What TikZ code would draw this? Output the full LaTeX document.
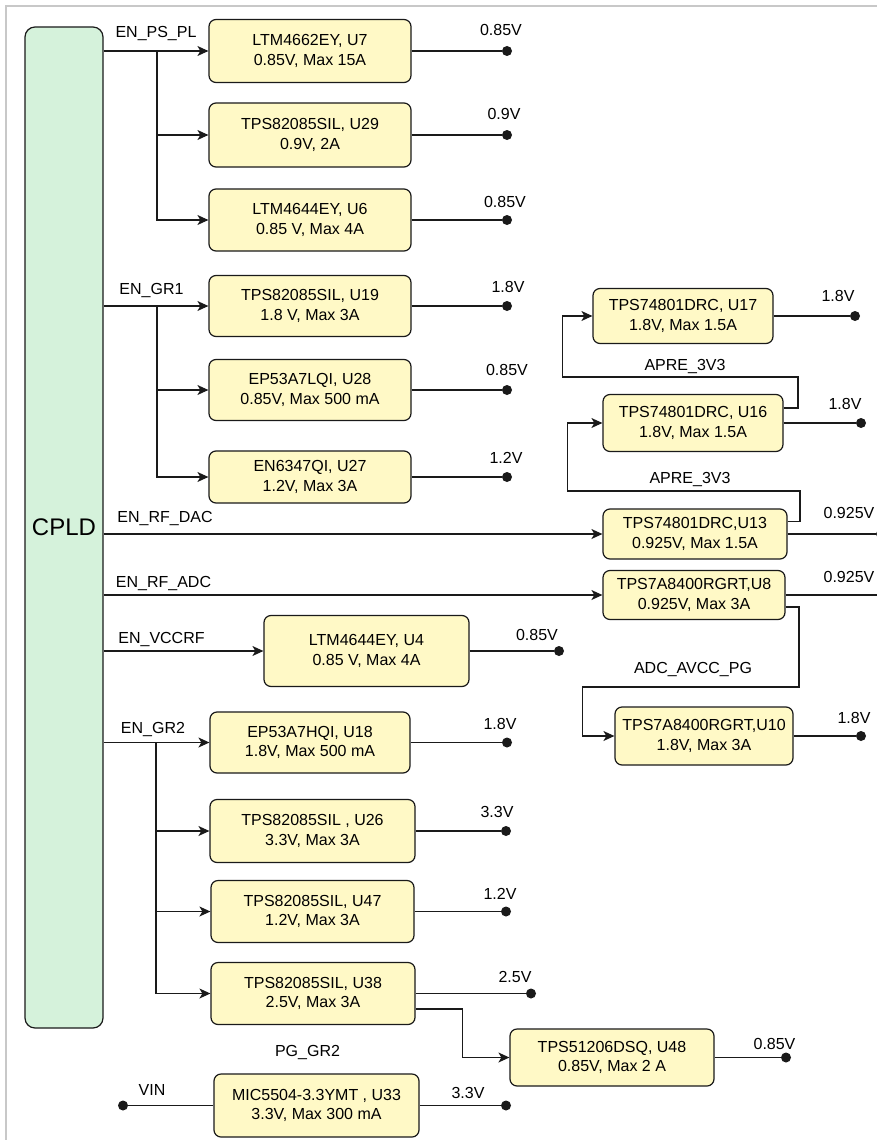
\documentclass[tikz,border=0pt]{standalone}
\usepackage{fontspec}
\setmainfont{Liberation Sans}
\usetikzlibrary{arrows.meta,positioning}
\definecolor{ink}{HTML}{1A1A1A}
\definecolor{frame}{HTML}{C8C8C8}
\definecolor{cpldfill}{HTML}{D5F2DB}
\definecolor{regfill}{HTML}{FFF9C6}
\tikzset{
  reg/.style={draw=ink,fill=regfill,rounded corners=7pt,line width=1.2pt,align=center,inner sep=1pt,font=\fontsize{16}{19.5}\selectfont},
  cpldbox/.style={draw=ink,fill=cpldfill,rounded corners=10pt,line width=1.2pt,font=\fontsize{24}{28}\selectfont},
  lab/.style={anchor=base,inner sep=0pt,font=\fontsize{16}{19}\selectfont},
  tap/.style={circle,fill=ink,inner sep=0pt,minimum size=10pt},
  wire/.style={draw=ink,line width=1.2pt},
  arr/.style={wire,-{Stealth[length=11pt,width=10pt,inset=3pt]}},
}
\begin{document}
\begin{tikzpicture}[x=1pt,y=-1pt]
  \useasboundingbox[fill=white] (0,0) rectangle (877,1140);
  \clip (0,0) rectangle (877,1140);
  \draw[frame,line width=1.5pt] (6,1140) -- (6,6) -- (877,6);

  \node[cpldbox,minimum width=78pt,minimum height=1001pt] (cpld) at (64,527.5) {CPLD};

  \node[reg,minimum width=202pt,minimum height=63pt] (u7) at (310,51) {LTM4662EY, U7\\0.85V, Max 15A};
  \node[reg,minimum width=202pt,minimum height=64pt] (u29) at (310,135) {TPS82085SIL, U29\\0.9V, 2A};
  \node[reg,minimum width=202pt,minimum height=62pt] (u6) at (310,220) {LTM4644EY, U6\\0.85 V, Max 4A};
  \node[reg,minimum width=202pt,minimum height=61pt] (u19) at (310,306) {TPS82085SIL, U19\\1.8 V, Max 3A};
  \node[reg,minimum width=202pt,minimum height=61pt] (u28) at (310,390) {EP53A7LQI, U28\\0.85V, Max 500 mA};
  \node[reg,minimum width=202pt,minimum height=52pt] (u27) at (310,477) {EN6347QI, U27\\1.2V, Max 3A};
  \node[reg,minimum width=180pt,minimum height=55pt] (u17) at (683,316) {TPS74801DRC, U17\\1.8V, Max 1.5A};
  \node[reg,minimum width=180pt,minimum height=57pt] (u16) at (693,423) {TPS74801DRC, U16\\1.8V, Max 1.5A};
  \node[reg,minimum width=184pt,minimum height=50pt] (u13) at (695,534) {TPS74801DRC,U13\\0.925V, Max 1.5A};
  \node[reg,minimum width=182pt,minimum height=49pt] (u8) at (694,595) {TPS7A8400RGRT,U8\\0.925V, Max 3A};
  \node[reg,minimum width=205pt,minimum height=71pt] (u4) at (366.5,651) {LTM4644EY, U4\\0.85 V, Max 4A};
  \node[reg,minimum width=178pt,minimum height=58pt] (u10) at (704,736) {TPS7A8400RGRT,U10\\1.8V, Max 3A};
  \node[reg,minimum width=200pt,minimum height=61pt] (u18) at (310,742.5) {EP53A7HQI, U18\\1.8V, Max 500 mA};
  \node[reg,minimum width=205pt,minimum height=63pt] (u26) at (312.5,831) {TPS82085SIL , U26\\3.3V, Max 3A};
  \node[reg,minimum width=203pt,minimum height=62pt] (u47) at (312.5,911.5) {TPS82085SIL, U47\\1.2V, Max 3A};
  \node[reg,minimum width=204pt,minimum height=62pt] (u38) at (313,993.5) {TPS82085SIL, U38\\2.5V, Max 3A};
  \node[reg,minimum width=204pt,minimum height=57pt] (u48) at (612,1057.5) {TPS51206DSQ, U48\\0.85V, Max 2 A};
  \node[reg,minimum width=205pt,minimum height=63pt] (u33) at (316.5,1105.5) {MIC5504-3.3YMT , U33\\3.3V, Max 300 mA};

  \node[tap] (o7) at (507,51) {};
  \node[tap] (o29) at (507,135) {};
  \node[tap] (o6) at (507,220) {};
  \node[tap] (o19) at (507,306) {};
  \node[tap] (o28) at (507,390) {};
  \node[tap] (o27) at (507,477) {};
  \node[tap] (o17) at (855,316) {};
  \node[tap] (o16) at (861,423) {};
  \node[tap] (o13) at (881,534) {};
  \node[tap] (o8) at (884,595) {};
  \node[tap] (o4) at (559,651) {};
  \node[tap] (o10) at (861,736) {};
  \node[tap] (o18) at (507,742.5) {};
  \node[tap] (o26) at (506,831) {};
  \node[tap] (o47) at (506,911.5) {};
  \node[tap] (o38) at (531,993.5) {};
  \node[tap] (o48) at (786,1057.5) {};
  \node[tap] (o33) at (506,1105.5) {};
  \node[tap] (vin) at (123,1105.5) {};

  \node[lab] (l7) at (501,36) {0.85V};
  \node[lab] (l29) at (504,119) {0.9V};
  \node[lab] (l6) at (505,207) {0.85V};
  \node[lab] (l19) at (508,292) {1.8V};
  \node[lab] (l28) at (507,375) {0.85V};
  \node[lab] (l27) at (506,463) {1.2V};
  \node[lab] (l17) at (838,301) {1.8V};
  \node[lab] (l16) at (845,409) {1.8V};
  \node[lab] (l13) at (849,518) {0.925V};
  \node[lab] (l8) at (849,582) {0.925V};
  \node[lab] (l4) at (537,640) {0.85V};
  \node[lab] (l10) at (854,723) {1.8V};
  \node[lab] (l18) at (500,729) {1.8V};
  \node[lab] (l26) at (497,817) {3.3V};
  \node[lab] (l47) at (500,899) {1.2V};
  \node[lab] (l38) at (515,982) {2.5V};
  \node[lab] (l48) at (774.5,1049) {0.85V};
  \node[lab] (l33) at (468,1098) {3.3V};
  \node[lab] (lvin) at (152,1095) {VIN};

  \node[lab] (enps) at (156,37.5) {EN\_PS\_PL};
  \node[lab] (engr1) at (151.5,294) {EN\_GR1};
  \node[lab] (endac) at (165,522) {EN\_RF\_DAC};
  \node[lab] (enadc) at (163.5,587) {EN\_RF\_ADC};
  \node[lab] (envcc) at (161.5,643) {EN\_VCCRF};
  \node[lab] (engr2) at (153,733) {EN\_GR2};
  \node[lab] (apre1) at (685,370) {APRE\_3V3};
  \node[lab] (apre2) at (690,483) {APRE\_3V3};
  \node[lab] (adcpg) at (693,673) {ADC\_AVCC\_PG};
  \node[lab] (pggr2) at (307.5,1056) {PG\_GR2};

  \coordinate (jps) at (157,51);
  \coordinate (jgr1) at (157,306);
  \coordinate (jgr2) at (156,742.5);

  \draw[arr] (cpld.east |- u7.west) -- (u7.west);
  \draw[arr] (jps) |- (u29.west);
  \draw[arr] (jps) |- (u6.west);
  \draw[arr] (cpld.east |- u19.west) -- (u19.west);
  \draw[arr] (jgr1) |- (u28.west);
  \draw[arr] (jgr1) |- (u27.west);
  \draw[arr] (cpld.east |- u13.west) -- (u13.west);
  \draw[arr] (cpld.east |- u8.west) -- (u8.west);
  \draw[arr] (cpld.east |- u4.west) -- (u4.west);
  \draw[arr] (cpld.east |- u18.west) -- (u18.west);
  \draw[arr] (jgr2) |- (u26.west);
  \draw[arr] (jgr2) |- (u47.west);
  \draw[arr] (jgr2) |- (u38.west);

  \draw[arr] ([yshift=15pt]u16.east) -| (798,377) -| ([xshift=-30pt]u17.west) -- (u17.west);
  \draw[arr] ([yshift=12.5pt]u13.east) -| (800,491) -| ([xshift=-35pt]u16.west) -- (u16.west);
  \draw[arr] ([yshift=-12pt]u8.east) -| (799,687) -| ([xshift=-32pt]u10.west) -- (u10.west);
  \draw[arr] ([yshift=-15.5pt]u38.east) -| ([xshift=-47pt]u48.west) -- (u48.west);

  \draw[wire] (u7.east) -- (o7);
  \draw[wire] (u29.east) -- (o29);
  \draw[wire] (u6.east) -- (o6);
  \draw[wire] (u19.east) -- (o19);
  \draw[wire] (u28.east) -- (o28);
  \draw[wire] (u27.east) -- (o27);
  \draw[wire] (u17.east) -- (o17);
  \draw[wire] (u16.east) -- (o16);
  \draw[wire] (u13.east) -- (o13);
  \draw[wire] (u8.east) -- (o8);
  \draw[wire] (u4.east) -- (o4);
  \draw[wire] (u10.east) -- (o10);
  \draw[wire] (u18.east) -- (o18);
  \draw[wire] (u26.east) -- (o26);
  \draw[wire] (u47.east) -- (o47);
  \draw[wire] (u38.east) -- (o38);
  \draw[wire] (u48.east) -- (o48);
  \draw[wire] (u33.east) -- (o33);
  \draw[wire] (vin) -- (u33.west);
\end{tikzpicture}
\end{document}
